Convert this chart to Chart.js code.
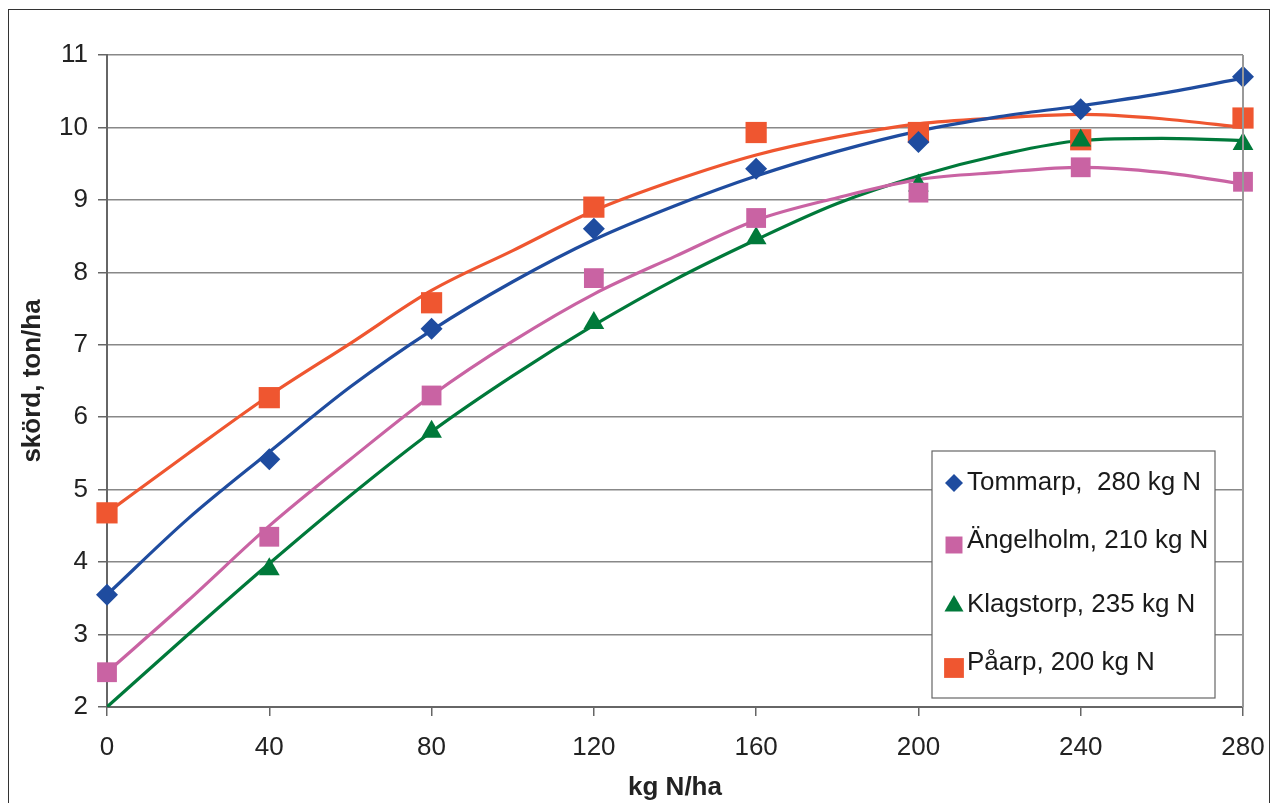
<!DOCTYPE html>
<html>
<head>
<meta charset="utf-8">
<script src="https://cdn.jsdelivr.net/npm/chart.js@4"></script>
<style>
  html, body { margin: 0; padding: 0; background: #fff; }
  #wrap { position: relative; width: 1273px; height: 803px; }
  #frame { position: absolute; left: 8px; top: 9px; width: 1262px; height: 800px; border: 1.5px solid #333; box-sizing: border-box; }
  canvas { position: absolute; left: 0; top: 0; }
</style>
</head>
<body>
<div id="wrap">
  <div id="frame"></div>
  <canvas id="chart" width="1273" height="803"></canvas>
</div>
<script>
// kvävegiva, kg N/ha
const doses = [0, 40, 80, 120, 160, 200, 240, 280];
const curveDoses = [0, 20, 40, 60, 80, 100, 120, 140, 160, 180, 200, 220, 240, 260, 280];

// uppmätta skördar
const tommarpObs = [3.55, 5.42, 7.22, 8.6, 9.43, 9.8, 10.25, 10.7];
const angelholmObs = [2.48, 4.35, 6.3, 7.92, 8.75, 9.1, 9.45, 9.25];
const klagstorpObs = [null, 3.9, 5.8, 7.3, 8.47, 9.2, 9.82, 9.77];
const paarpObs = [4.68, 6.27, 7.58, 8.9, 9.93, 9.93, 9.83, 10.13];

// anpassade kurvor
const tommarpFit = [3.55, 4.6, 5.52, 6.42, 7.2, 7.87, 8.45, 8.92, 9.33, 9.67, 9.95, 10.15, 10.3, 10.47, 10.68];
const angelholmFit = [2.48, 3.47, 4.5, 5.42, 6.3, 7.05, 7.7, 8.22, 8.72, 9.03, 9.28, 9.38, 9.45, 9.38, 9.22];
const klagstorpFit = [2.0, 3.0, 3.98, 4.92, 5.8, 6.57, 7.27, 7.9, 8.45, 8.95, 9.33, 9.62, 9.82, 9.85, 9.82];
const paarpFit = [4.68, 5.5, 6.3, 7.02, 7.75, 8.3, 8.85, 9.27, 9.62, 9.87, 10.05, 10.13, 10.18, 10.12, 10.0];

const yTicks = [2, 3, 4, 5, 6, 7, 8, 9, 10, 11];
const xTicks = [0, 40, 80, 120, 160, 200, 240, 280];

const seriesNames = ["Tommarp,  280 kg N", "Ängelholm, 210 kg N", "Klagstorp, 235 kg N", "Påarp, 200 kg N"];
const colors = ["#1f4c9f", "#c963a3", "#00793a", "#ef5630"];
const markers = ["rectRot", "rect", "triangle", "rect"];
const markerSizes = [11, 14, 12, 15];

const FONT = "'Liberation Sans', Arial, sans-serif";

function pts(xs, ys) {
    return xs.map((x, i) => ({ x: x, y: ys[i] }));
}

const fits = [tommarpFit, angelholmFit, klagstorpFit, paarpFit];
const obs = [tommarpObs, angelholmObs, klagstorpObs, paarpObs];

const datasets = [];
fits.forEach((f, i) => {
    datasets.push({
        type: "line",
        label: seriesNames[i] + " fit",
        data: pts(curveDoses, f),
        borderColor: colors[i],
        borderWidth: 3.2,
        pointRadius: 0,
        tension: 0.4,
        cubicInterpolationMode: "monotone",
        order: 2
    });
});
obs.forEach((o, i) => {
    datasets.push({
        type: "scatter",
        label: seriesNames[i],
        data: pts(doses, o),
        backgroundColor: colors[i],
        borderColor: colors[i],
        borderWidth: 0,
        pointStyle: markers[i],
        pointRadius: markerSizes[i],
        pointHoverRadius: markerSizes[i],
        clip: false,
        order: 1
    });
});

// legend box inside plot
const legendBox = {
    id: "legendBox",
    afterDraw(chart) {
        const ctx = chart.ctx;
        const bx = 932, by = 451, bw = 283, bh = 247;
        ctx.save();
        ctx.fillStyle = "#fff";
        ctx.fillRect(bx, by, bw, bh);
        ctx.strokeStyle = "#666";
        ctx.lineWidth = 1.2;
        ctx.strokeRect(bx, by, bw, bh);
        const rows = [483, 541, 605, 663];
        ctx.font = "26px " + FONT;
        ctx.textBaseline = "middle";
        seriesNames.forEach((name, i) => {
            ctx.fillStyle = colors[i];
            ctx.strokeStyle = colors[i];
            Chart.helpers.drawPoint(ctx, { pointStyle: markers[i], radius: [9, 12, 11, 14][i], rotation: 0, borderWidth: 0 }, 954, rows[i] + [0, 4, 1, 5][i]);
            ctx.fillStyle = "#1a1a1a";
            ctx.fillText(name, 967, rows[i]);
        });
        // right border of plot area
        const a = chart.chartArea;
        ctx.strokeStyle = "#999";
        ctx.lineWidth = 2;
        ctx.beginPath();
        ctx.moveTo(a.right, a.top);
        ctx.lineTo(a.right, a.bottom);
        ctx.stroke();
        ctx.restore();
    }
};

new Chart(document.getElementById("chart").getContext("2d"), {
    data: { datasets },
    options: {
        responsive: false,
        animation: false,
        layout: { padding: { top: 55, right: 30, left: 0, bottom: 0 } },
        plugins: {
            legend: { display: false },
            tooltip: { enabled: false }
        },
        scales: {
            x: {
                type: "linear",
                min: 0,
                max: 280,
                afterBuildTicks: (s) => { s.ticks = xTicks.map(v => ({ value: v })); },
                afterFit: (s) => { s.height = 96; s.paddingLeft = 0; s.paddingRight = 0; },
                border: { color: "#666", width: 2 },
                grid: {
                    drawOnChartArea: false,
                    tickLength: 9,
                    tickColor: "#666",
                    lineWidth: 1.5
                },
                ticks: {
                    color: "#222",
                    font: { family: FONT, size: 26 },
                    padding: 16
                },
                title: {
                    display: true,
                    text: "kg N/ha",
                    color: "#222",
                    font: { family: FONT, size: 26, weight: "bold" },
                    padding: { top: 0, bottom: 0 }
                }
            },
            y: {
                min: 2,
                max: 11,
                afterBuildTicks: (s) => { s.ticks = yTicks.map(v => ({ value: v })); },
                afterFit: (s) => { s.width = 107; s.paddingTop = 0; s.paddingBottom = 0; },
                border: { color: "#666", width: 2 },
                grid: {
                    color: "#888",
                    lineWidth: 1.5,
                    tickLength: 9,
                    tickColor: "#666"
                },
                ticks: {
                    color: "#222",
                    font: { family: FONT, size: 26 },
                    padding: 10
                },
                title: {
                    display: true,
                    text: "skörd, ton/ha",
                    color: "#222",
                    font: { family: FONT, size: 26, weight: "bold" },
                    padding: { top: 17, bottom: 0 }
                }
            }
        }
    },
    plugins: [legendBox]
});
</script>
</body>
</html>
